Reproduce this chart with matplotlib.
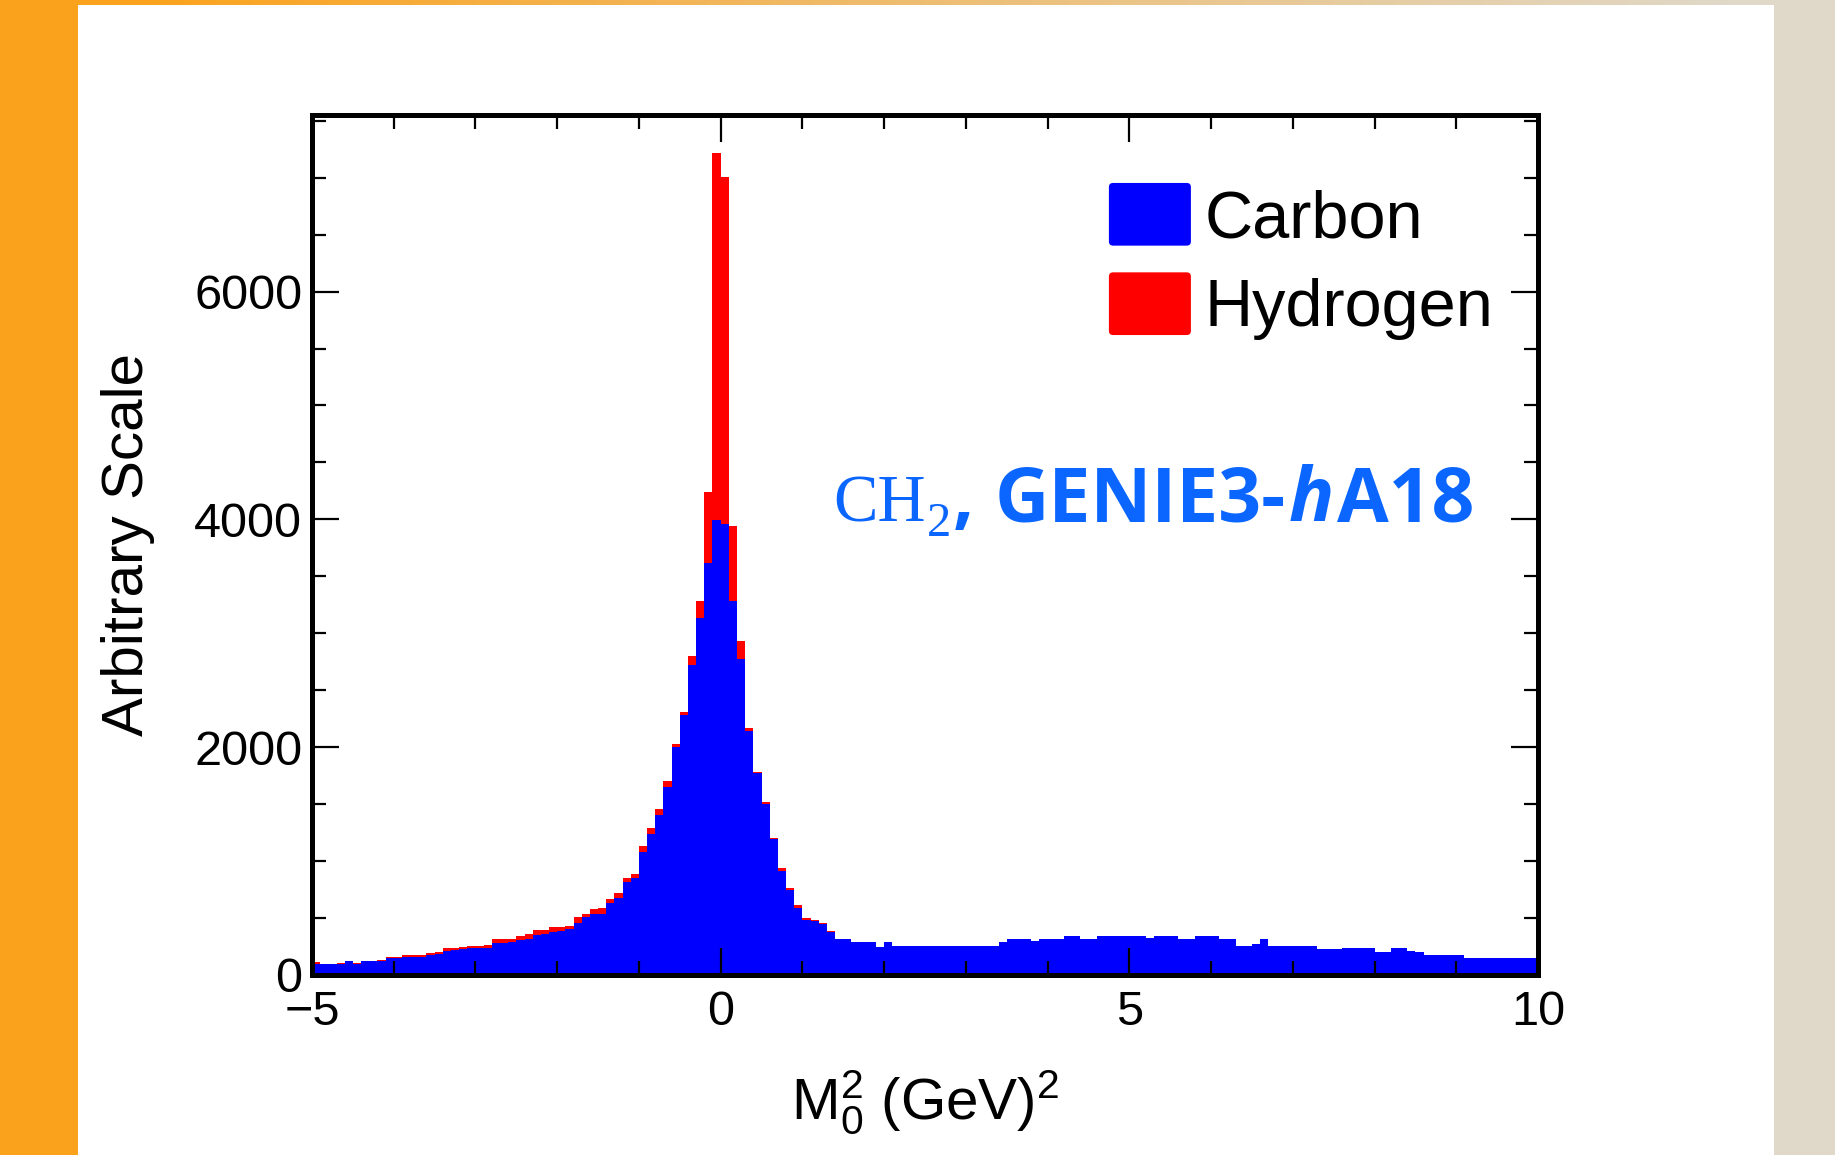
import numpy as np
import matplotlib
matplotlib.use("Agg")
import matplotlib.pyplot as plt
from matplotlib.patches import Patch, Rectangle, FancyBboxPatch
from matplotlib.legend_handler import HandlerPatch
from matplotlib.ticker import MultipleLocator

# ---------------- data ----------------
x_range = (-5.0, 10.0)
n_bins = 150
carbon = [
    95, 96, 96, 98, 120, 100, 120, 120, 122, 150,
    152, 155, 158, 160, 175, 180, 215, 218, 225, 235,
    235, 238, 280, 285, 290, 310, 320, 354, 360, 380,
    385, 400, 456, 505, 535, 537, 635, 680, 814, 849,
    1080, 1241, 1402, 1653, 2005, 2282, 2724, 3137, 3614, 3996,
    3956, 3287, 2775, 2146, 1769, 1502, 1191, 914, 748, 587,
    480, 470, 450, 380, 318, 318, 288, 288, 288, 250,
    288, 258, 258, 258, 255, 255, 255, 255, 255, 255,
    255, 255, 255, 255, 290, 316, 316, 316, 295, 316,
    316, 316, 339, 339, 316, 316, 339, 339, 339, 339,
    339, 339, 325, 339, 339, 339, 316, 316, 339, 339,
    339, 316, 316, 257, 257, 270, 316, 257, 257, 257,
    257, 257, 257, 228, 228, 228, 233, 233, 233, 233,
    205, 205, 233, 233, 212, 200, 175, 175, 175, 175,
    175, 150, 150, 150, 150, 150, 150, 150, 150, 150,
]
hydrogen = [
    15, 4, 4, 4, 4, 4, 4, 5, 6, 5,
    6, 22, 19, 18, 15, 22, 22, 19, 18, 22,
    22, 22, 36, 31, 30, 32, 40, 44, 38, 38,
    33, 30, 50, 30, 44, 50, 30, 40, 39, 40,
    50, 50, 55, 50, 25, 25, 76, 150, 629, 3218,
    3052, 654, 161, 25, 15, 15, 15, 25, 15, 26,
    20, 10, 5, 2, 0, 0, 0, 0, 0, 0,
] + [0] * 80
series_labels = ["Carbon", "Hydrogen"]
x_ticks = [-5, 0, 5, 10]
y_ticks = [0, 2000, 4000, 6000]
x_label = r"M$_0^2$ (GeV)$^2$"
y_label = "Arbitrary Scale"

# ---------------- style ----------------
plt.rcParams["font.family"] = ["Liberation Sans", "DejaVu Sans"]
plt.rcParams["mathtext.fontset"] = "custom"
plt.rcParams["mathtext.rm"] = "Liberation Sans"
plt.rcParams["mathtext.it"] = "Liberation Sans:italic"
plt.rcParams["mathtext.bf"] = "Liberation Sans:bold"

W, H = 1835, 1155
fig = plt.figure(figsize=(W / 100, H / 100), dpi=100)

# slide background
bg = fig.add_axes([0, 0, 1, 1])
bg.set_axis_off()
orange = np.array([251, 163, 30]) / 255.0
beige = np.array([224, 217, 202]) / 255.0
xs = np.linspace(0, W, 400)
t = np.clip((xs - 150) / 1600.0, 0, 1)[None, :, None]
img = orange[None, None, :] * (1 - t) + beige[None, None, :] * t
bg.imshow(img, aspect="auto", extent=[0, 1, 0, 1])
bg.add_patch(Rectangle((0, 0), 78 / W, 1, color="#fba21c", lw=0))
bg.add_patch(Rectangle((78 / W, 0), (1774 - 78) / W, (H - 5) / H,
                       facecolor="white", lw=0))
bg.set_xlim(0, 1)
bg.set_ylim(0, 1)

# main axes
L, R, T, B = 312, 1538, 115, 975
ax = fig.add_axes([L / W, 1 - B / H, (R - L) / W, (B - T) / H])

edges = np.linspace(x_range[0], x_range[1], n_bins + 1)
c = np.array(carbon, dtype=float)
h = np.array(hydrogen, dtype=float)
ax.stairs(c + h, edges, fill=True, color="#ff0000", lw=0)
ax.stairs(c, edges, fill=True, color="#0000ff", lw=0)

ax.set_xlim(*x_range)
ax.set_ylim(0, 7550)
ax.set_xticks(x_ticks)
ax.set_yticks(y_ticks)
ax.xaxis.set_minor_locator(MultipleLocator(1))
ax.yaxis.set_minor_locator(MultipleLocator(500))
ax.tick_params(which="both", direction="in", top=True, right=True,
               width=1.6, color="black", labelsize=35)
ax.tick_params(which="major", length=19.5)
ax.tick_params(which="minor", length=10)
ax.tick_params(axis="x", pad=11)
ax.tick_params(axis="y", pad=7)
for s in ax.spines.values():
    s.set_linewidth(3.6)
    s.set_color("black")

ax.set_ylabel(y_label, fontsize=42)
ax.yaxis.set_label_coords(-0.128, 0.5)
ax.set_xlabel(x_label, fontsize=42, va="top")
ax.xaxis.set_label_coords(0.5, -0.108)


def rounded_patch(legend, orig_handle, xdescent, ydescent, width, height,
                  fontsize):
    return FancyBboxPatch((-xdescent, -ydescent), width, height,
                          boxstyle="round,pad=0,rounding_size=3")


handles = [Patch(facecolor="#0000ff", label=series_labels[0]),
           Patch(facecolor="#ff0000", label=series_labels[1])]
ax.legend(handles=handles, loc="upper left", bbox_to_anchor=(0.650, 0.921),
          frameon=False, fontsize=48, handlelength=1.23, handleheight=1.07,
          handletextpad=0.2, labelspacing=0.32, borderpad=0, borderaxespad=0,
          handler_map={Patch: HandlerPatch(patch_func=rounded_patch)})

# annotation text, placed piece by piece
renderer = fig.canvas.get_renderer()
blue_txt = "#0a66ff"


def place(s, x_px, base_px, **kw):
    tt = fig.text(x_px / W, 1 - base_px / H, s, ha="left", va="baseline",
                  color=blue_txt, **kw)
    return tt.get_window_extent(renderer).x1


base = 521
x = 833
x = place("CH", x, base, family="Liberation Serif", fontsize=48)
x = place("2", x + 1, base + 15, family="Liberation Serif", fontsize=35)
x = place(",", x + 2, base, family="Open Sans", fontweight="bold",
          fontsize=53)
x = place("GENIE3-", x + 20, base, family="Open Sans", fontweight="bold",
          fontsize=54)
x = place("h", x + 3, base, family="Open Sans", fontweight="bold",
          style="italic", fontsize=54)
x = place("A18", x + 3, base, family="Open Sans", fontweight="bold",
          fontsize=54)

fig.savefig("out.png", dpi=100)
